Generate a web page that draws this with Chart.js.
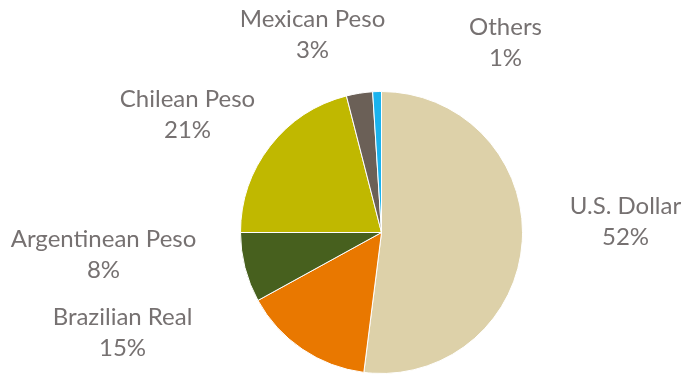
<!DOCTYPE html>
<html>
<head>
<meta charset="utf-8">
<script src="https://cdn.jsdelivr.net/npm/chart.js@4"></script>
<style>
  html, body { margin: 0; padding: 0; background: #fff; }
  #wrap { width: 687px; height: 374px; }
</style>
</head>
<body>
<div id="wrap"><canvas id="currencyChart" width="687" height="374"></canvas></div>
<script>
const currencies = ["U.S. Dollar", "Brazilian Real", "Argentinean Peso", "Chilean Peso", "Mexican Peso", "Others"];
const shares = [52, 15, 8, 21, 3, 1];
const sliceColors = ["#DDD1A9", "#E97800", "#47601E", "#C0B800", "#6B6057", "#1AB3EE"];

// label anchor (center of first line) relative to the pie centre
const labelOffsets = [
    [244, -26], [-259, 85], [-278, 7], [-194, -133], [-69, -213], [124, -205]
];

const outsideLabels = {
    id: "outsideLabels",
    afterDatasetsDraw(chart) {
        const arc = chart.getDatasetMeta(0).data[0];
        const cx = arc.x, cy = arc.y;
        const c = chart.ctx;
        c.save();
        c.fillStyle = "#767171";
        c.font = "24px Lato";
        c.textAlign = "center";
        c.textBaseline = "middle";
        currencies.forEach((name, i) => {
            const [dx, dy] = labelOffsets[i];
            c.fillText(name, cx + dx, cy + dy);
            c.fillText(shares[i] + "%", cx + dx, cy + dy + 31);
        });
        c.restore();
    }
};

document.addEventListener("DOMContentLoaded", () => {
    const ctx = document.getElementById("currencyChart").getContext("2d");

    new Chart(ctx, {
        type: "pie",
        data: {
            labels: currencies,
            datasets: [
                {
                    data: shares,
                    backgroundColor: sliceColors,
                    borderColor: "#ffffff",
                    borderWidth: 1,
                    hoverOffset: 0
                }
            ]
        },
        options: {
            responsive: false,
            animation: false,
            layout: {
                padding: { top: 91, bottom: 0, left: 239, right: 163 }
            },
            plugins: {
                legend: { display: false },
                tooltip: { enabled: false }
            }
        },
        plugins: [outsideLabels]
    });
});
</script>
</body>
</html>
